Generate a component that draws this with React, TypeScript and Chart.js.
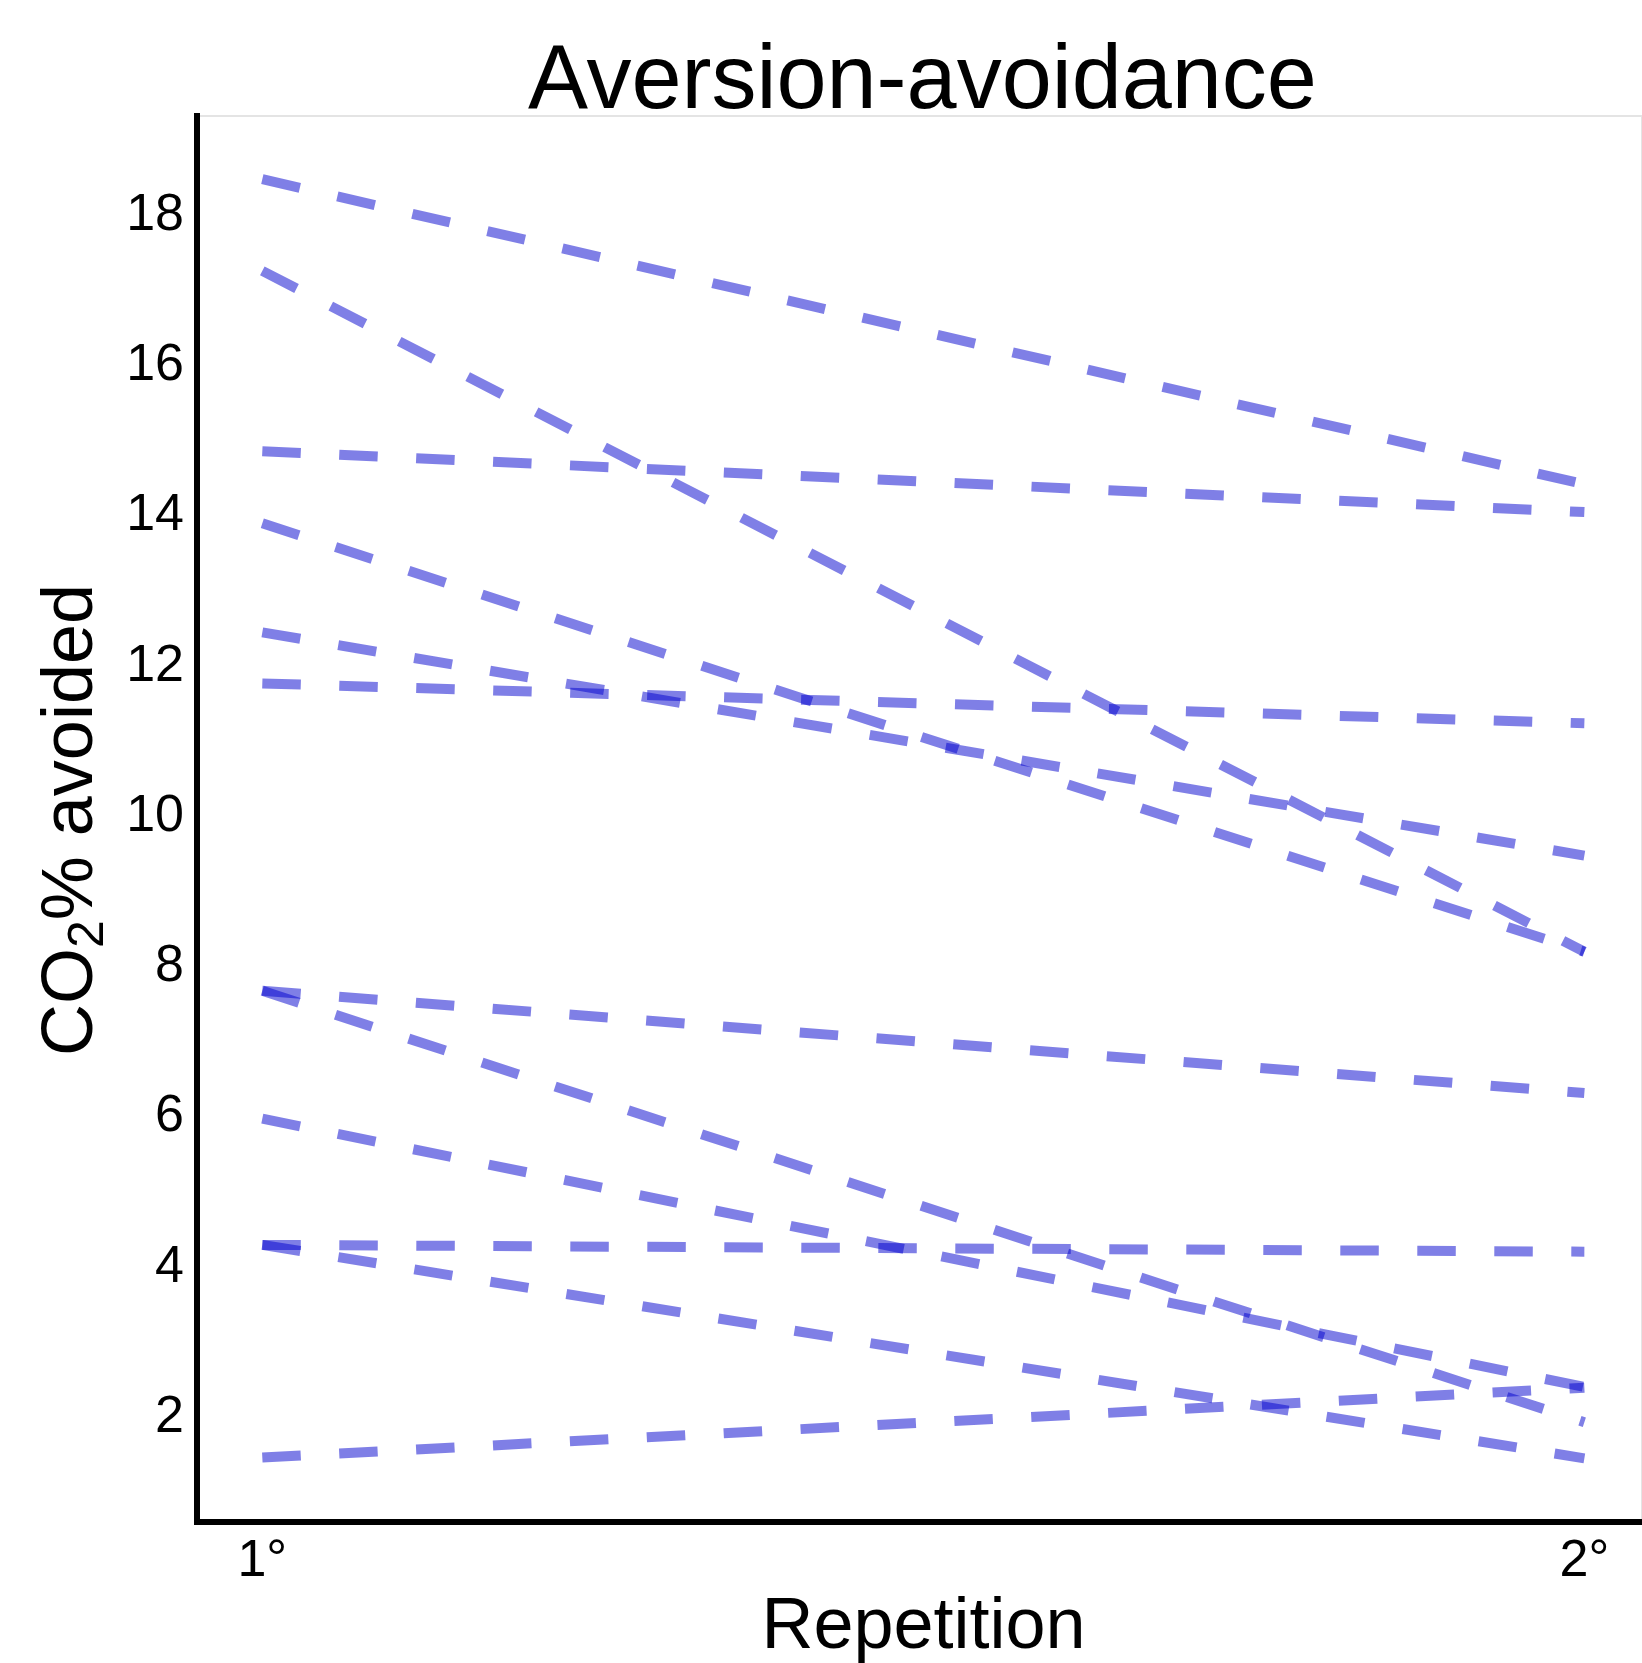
import React, { useEffect, useRef } from "react";
import { Chart, registerables } from "chart.js";

Chart.register(...registerables);

// ---- data ----
const categories = ["1°", "2°"];
const firstRepetition = [18.48, 17.26, 14.86, 13.9, 12.45, 11.77, 7.68, 7.68, 5.98, 4.3, 4.3, 1.47];
const secondRepetition = [14.42, 8.2, 14.05, 8.2, 9.48, 11.24, 6.32, 1.94, 2.41, 4.21, 1.46, 2.4];
const yTickValues = [2, 4, 6, 8, 10, 12, 14, 16, 18];

const TITLE = "Aversion-avoidance";
const X_TITLE = "Repetition";
const Y_TITLE_PARTS: { text: string; sub: boolean }[] = [
  { text: "CO", sub: false },
  { text: "2", sub: true },
  { text: "% avoided", sub: false },
];

const FONT = "'Liberation Sans', Arial, Helvetica, sans-serif";
const LINE_COLOR = "rgba(0,0,205,0.5)";

const decorPlugin = {
  id: "decor",
  beforeDraw(chart: any) {
    const { ctx, chartArea } = chart;
    const { left, top, right, bottom } = chartArea;
    ctx.save();
    ctx.fillStyle = "#ffffff";
    ctx.fillRect(0, 0, chart.width, chart.height);
    ctx.strokeStyle = "#e4e4e4";
    ctx.lineWidth = 2;
    ctx.strokeRect(left, top, right - left, bottom - top);
    ctx.restore();
  },
  afterDraw(chart: any) {
    const { ctx, chartArea } = chart;
    const { left, top, right, bottom } = chartArea;
    const cx = (left + right) / 2;
    ctx.save();
    ctx.fillStyle = "#000000";
    // main title
    ctx.font = `90px ${FONT}`;
    ctx.textAlign = "center";
    ctx.textBaseline = "alphabetic";
    ctx.fillText(TITLE, cx + 3, 108);
    // x title
    ctx.font = `72px ${FONT}`;
    ctx.fillText(X_TITLE, cx + 4, 1648);
    // y title (rotated, with subscript)
    const mainSize = 72;
    const subSize = 50;
    let total = 0;
    const widths = Y_TITLE_PARTS.map((p) => {
      ctx.font = `${p.sub ? subSize : mainSize}px ${FONT}`;
      const w = ctx.measureText(p.text).width;
      total += w;
      return w;
    });
    const cy = (top + bottom) / 2 + 1;
    ctx.translate(92, cy);
    ctx.rotate(-Math.PI / 2);
    ctx.textAlign = "left";
    let x = -total / 2;
    Y_TITLE_PARTS.forEach((p, i) => {
      ctx.font = `${p.sub ? subSize : mainSize}px ${FONT}`;
      ctx.fillText(p.text, x, p.sub ? 11 : 0);
      x += widths[i];
    });
    ctx.restore();
  },
};

export default function App() {
  const canvasRef = useRef<HTMLCanvasElement | null>(null);

  useEffect(() => {
    const canvas = canvasRef.current;
    if (!canvas) return;
    const datasets = firstRepetition.map((v1, i) => ({
      label: `Subject ${i + 1}`,
      data: [
        { x: 1, y: v1 },
        { x: 2, y: secondRepetition[i] },
      ],
      borderColor: LINE_COLOR,
      backgroundColor: LINE_COLOR,
      borderWidth: 10,
      borderDash: [38.5, 38.5],
      borderCapStyle: "butt" as const,
      pointRadius: 0,
      pointHoverRadius: 0,
      fill: false,
      tension: 0,
    }));

    const tickFont = { family: FONT, size: 52 };

    const chart = new Chart(canvas, {
      type: "line",
      data: { datasets },
      plugins: [decorPlugin],
      options: {
        animation: false,
        responsive: false,
        maintainAspectRatio: false,
        layout: { padding: { top: 116, left: 0, right: 0, bottom: 0 } },
        plugins: {
          legend: { display: false },
          tooltip: { enabled: false },
          title: { display: false },
        },
        scales: {
          x: {
            type: "linear",
            min: 0.9506,
            max: 2.0436,
            afterBuildTicks: (scale: any) => {
              scale.ticks = categories.map((_, i) => ({ value: i + 1 }));
            },
            afterFit: (scale: any) => {
              scale.height = 141;
            },
            ticks: {
              callback: (value: any) => categories[Math.round(Number(value)) - 1] ?? "",
              font: tickFont,
              color: "#000000",
              padding: 0,
              autoSkip: false,
              maxRotation: 0,
              minRotation: 0,
            },
            grid: { display: false },
            border: { display: true, color: "#000000", width: 6 },
          },
          y: {
            type: "linear",
            min: 0.613,
            max: 19.32,
            afterBuildTicks: (scale: any) => {
              scale.ticks = yTickValues.map((v) => ({ value: v }));
            },
            afterFit: (scale: any) => {
              scale.width = 197;
            },
            ticks: {
              callback: (value: any) => String(value),
              font: tickFont,
              color: "#000000",
              padding: 5,
              autoSkip: false,
            },
            grid: { display: false },
            border: { display: true, color: "#000000", width: 6 },
          },
        },
      },
    });
    return () => chart.destroy();
  }, []);

  return (
    <div style={{ position: "absolute", left: 0, top: 0, width: 1642, height: 1663, background: "#fff" }}>
      <canvas ref={canvasRef} width={1642} height={1663} style={{ display: "block", width: 1642, height: 1663 }} />
    </div>
  );
}
